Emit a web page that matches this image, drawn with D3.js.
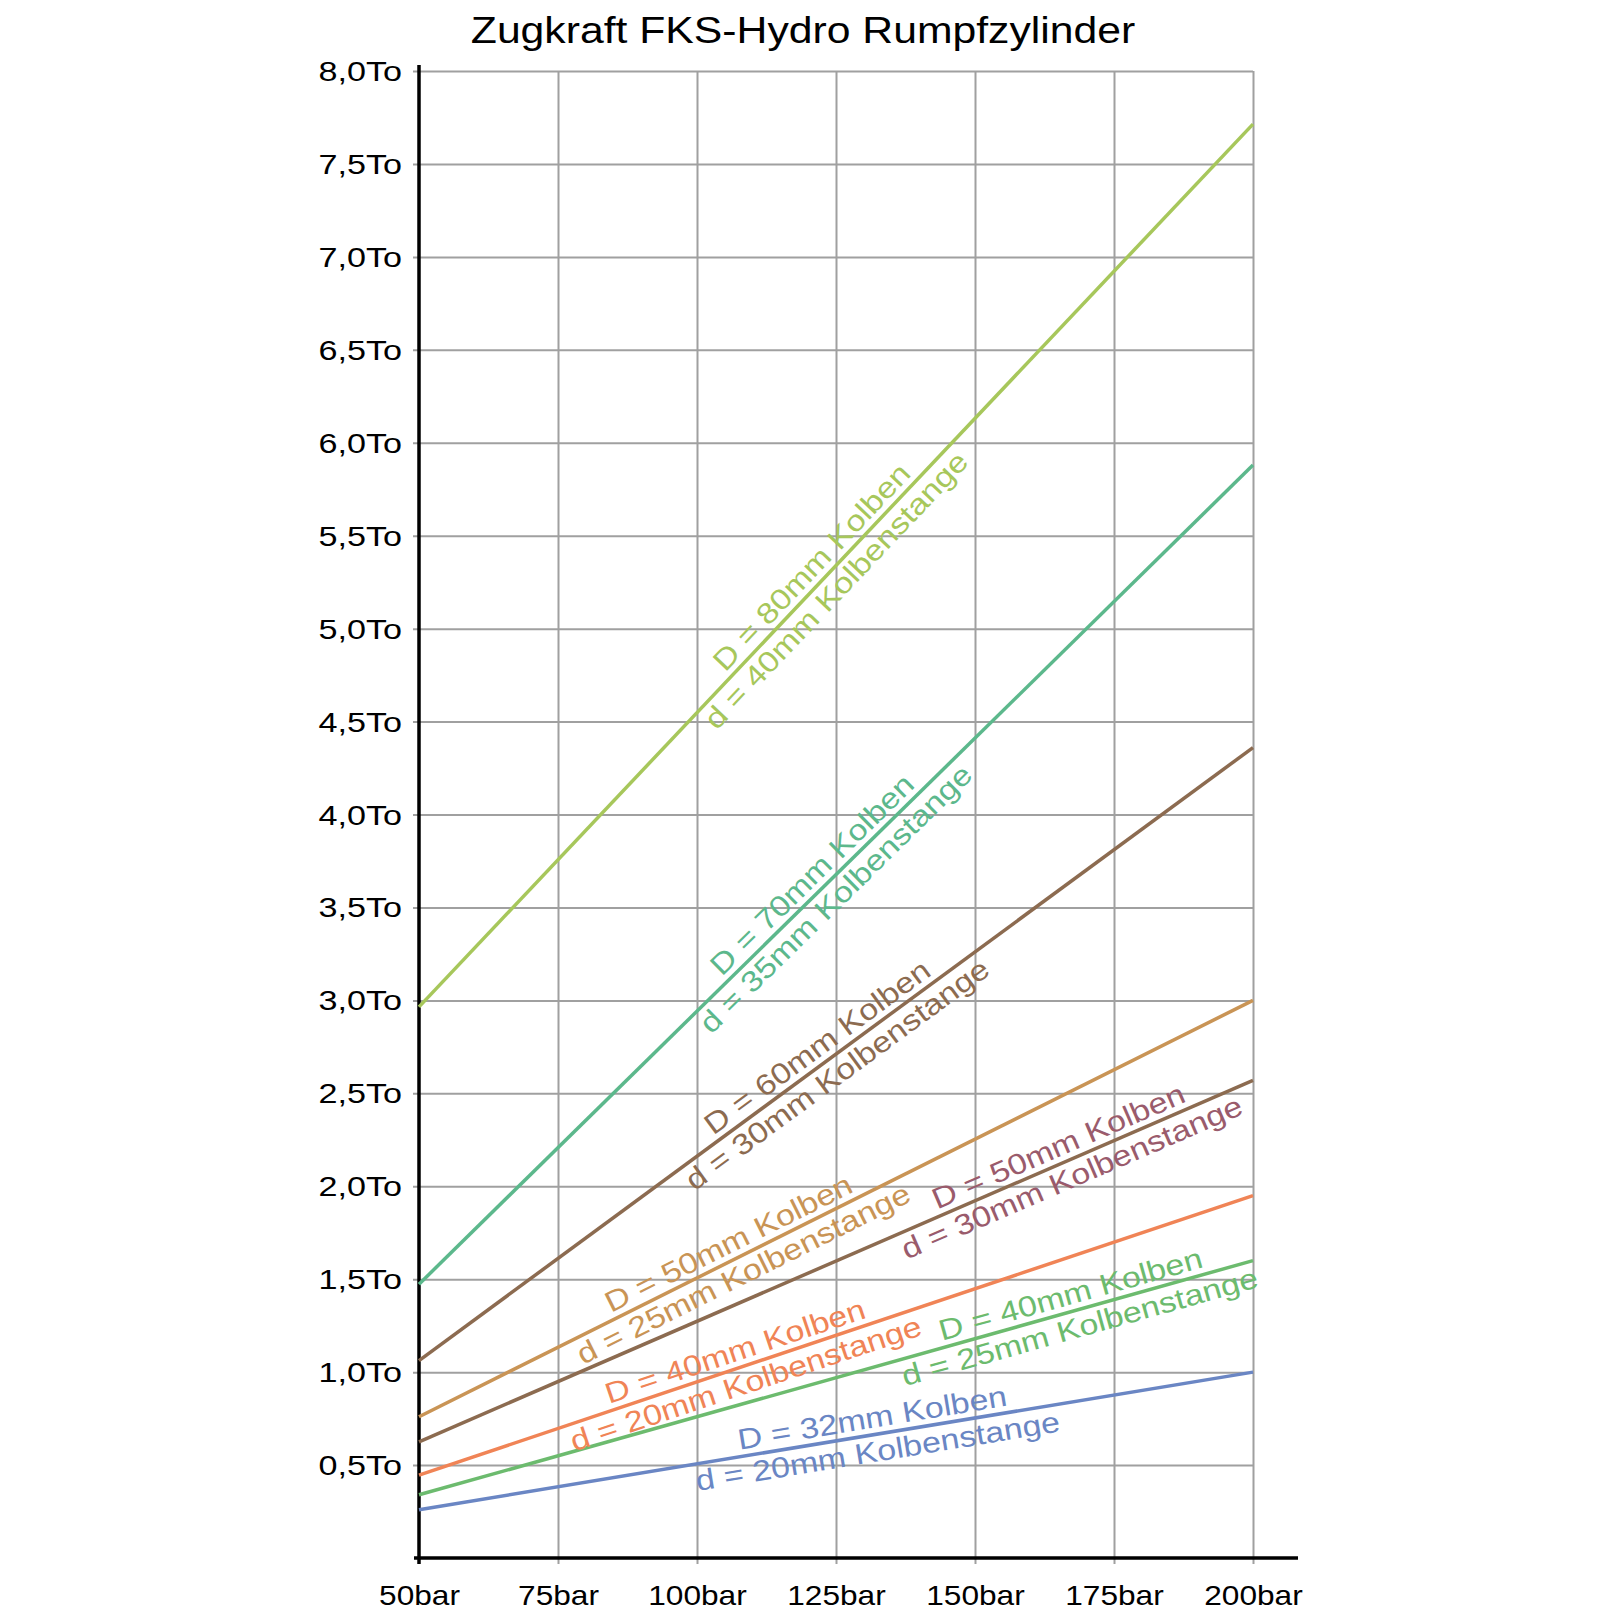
<!DOCTYPE html>
<html>
<head>
<meta charset="utf-8">
<script src="https://cdn.jsdelivr.net/npm/d3@7"></script>
<style>
  body { margin: 0; background: #fff; }
  text { font-family: "Liberation Sans", Arial, sans-serif; }
</style>
</head>
<body>
<div id="chart"></div>
<script>
const width = 1620;
const height = 1620;
const SX = 1.17; // glyphs in the reference are drawn a bit wide

// data
const pressures = [50, 200];
const xTicks = [50, 75, 100, 125, 150, 175, 200];
const yTicks = [0.5, 1, 1.5, 2, 2.5, 3, 3.5, 4, 4.5, 5, 5.5, 6, 6.5, 7, 7.5, 8];
const pistonD = [80, 70, 60, 50, 50, 40, 40, 32];
const rodD = [40, 35, 30, 25, 30, 20, 25, 20];
const forceAt50 = [2.965, 1.473, 1.062, 0.76, 0.625, 0.446, 0.34, 0.26];
const forceAt200 = [7.714, 5.88, 4.36, 3.0, 2.57, 1.95, 1.60, 1.0];
const labelAt = [122.8, 122.8, 123.4, 107, 166.2, 107.8, 168, 132];
const lineColors = ['#a7c75b', '#5cb88c', '#8c6b50', '#c99455', '#8c6b50', '#f08456', '#6cbb6e', '#6a86c4'];
const textColors = ['#a7c75b', '#5cb88c', '#8c6b50', '#c99455', '#9a5b6c', '#f08456', '#6cbb6e', '#6a86c4'];

const x = d3.scaleLinear().domain([50, 200]).range([419, 1253]);
const y = d3.scaleLinear().domain([0, 8]).range([1558, 71]);

const svg = d3.select('#chart').append('svg')
    .attr('width', width)
    .attr('height', height);

svg.append('rect')
    .attr('width', width)
    .attr('height', height)
    .attr('fill', '#fff');

// title
svg.append('text')
    .attr('transform', `translate(803,43) scale(${SX},1)`)
    .attr('text-anchor', 'middle')
    .attr('font-size', '36.5px')
    .attr('fill', '#000')
    .text('Zugkraft FKS-Hydro Rumpfzylinder');

// grid
const gridY = svg.append('g')
    .attr('transform', `translate(${x(200)},0)`)
    .call(d3.axisLeft(y).tickValues(yTicks).tickSize(x(200) - x(50) + 6).tickFormat(''));
const gridX = svg.append('g')
    .attr('transform', `translate(0,${y(8)})`)
    .call(d3.axisBottom(x).tickValues(xTicks.slice(1)).tickSize(y(0) - y(8) + 6).tickFormat(''));
[gridX, gridY].forEach(g => {
    g.select('.domain').remove();
    g.selectAll('line').attr('stroke', '#a0a0a0').attr('stroke-width', 2);
});

// tick labels
const yLab = svg.append('g')
    .attr('transform', `translate(${x(50)},0)`)
    .call(d3.axisLeft(y).tickValues(yTicks).tickSize(0).tickFormat(d => d3.format('.1f')(d).replace('.', ',') + 'To'));
yLab.select('.domain').remove();
yLab.selectAll('text')
    .attr('x', 0)
    .attr('dy', '0.34em')
    .attr('transform', 'translate(-17,0) scale(1.22,1)')
    .attr('font-size', '28px')
    .attr('fill', '#000')
    .attr('font-family', '"Liberation Sans", Arial, sans-serif');

const xLab = svg.append('g')
    .attr('transform', `translate(0,${y(0)})`)
    .call(d3.axisBottom(x).tickValues(xTicks).tickSize(0).tickFormat(d => d + 'bar'));
xLab.select('.domain').remove();
xLab.selectAll('text')
    .attr('y', 47)
    .attr('dy', 0)
    .attr('transform', 'scale(1.13,1)')
    .attr('font-size', '28px')
    .attr('fill', '#000')
    .attr('font-family', '"Liberation Sans", Arial, sans-serif');

// axes
svg.append('line')
    .attr('x1', x(50)).attr('x2', x(50))
    .attr('y1', y(8) - 6).attr('y2', y(0) + 6)
    .attr('stroke', '#000').attr('stroke-width', 3.5);
svg.append('line')
    .attr('x1', x(50) - 5).attr('x2', x(200) + 45)
    .attr('y1', y(0)).attr('y2', y(0))
    .attr('stroke', '#000').attr('stroke-width', 3.5);

// series
const line = d3.line().x(d => x(d[0])).y(d => y(d[1]));
const series = pistonD.map((D, i) => ({
    D: D,
    d: rodD[i],
    points: pressures.map((p, j) => [p, j === 0 ? forceAt50[i] : forceAt200[i]]),
    color: lineColors[i],
    textColor: textColors[i],
    at: labelAt[i]
}));

svg.append('g').selectAll('path')
    .data(series)
    .enter().append('path')
    .attr('d', s => line(s.points))
    .attr('fill', 'none')
    .attr('stroke', s => s.color)
    .attr('stroke-width', 3.5);

// labels along the lines
const labels = svg.append('g').selectAll('g')
    .data(series)
    .enter().append('g')
    .attr('transform', s => {
        const along = d3.scaleLinear().domain(pressures).range(s.points.map(p => p[1]));
        const px = x(s.at);
        const py = y(along(s.at));
        const dx = x(s.points[1][0]) - x(s.points[0][0]);
        const dy = y(s.points[1][1]) - y(s.points[0][1]);
        const ang = Math.atan2(dy, dx) * 180 / Math.PI;
        return `translate(${px},${py}) rotate(${ang}) scale(${SX},1)`;
    });
labels.append('text')
    .attr('y', -7)
    .attr('text-anchor', 'middle')
    .attr('font-size', '29px')
    .attr('fill', s => s.textColor)
    .text(s => `D = ${s.D}mm Kolben`);
labels.append('text')
    .attr('y', 27)
    .attr('text-anchor', 'middle')
    .attr('font-size', '29px')
    .attr('fill', s => s.textColor)
    .text(s => `d = ${s.d}mm Kolbenstange`);
</script>
</body>
</html>
